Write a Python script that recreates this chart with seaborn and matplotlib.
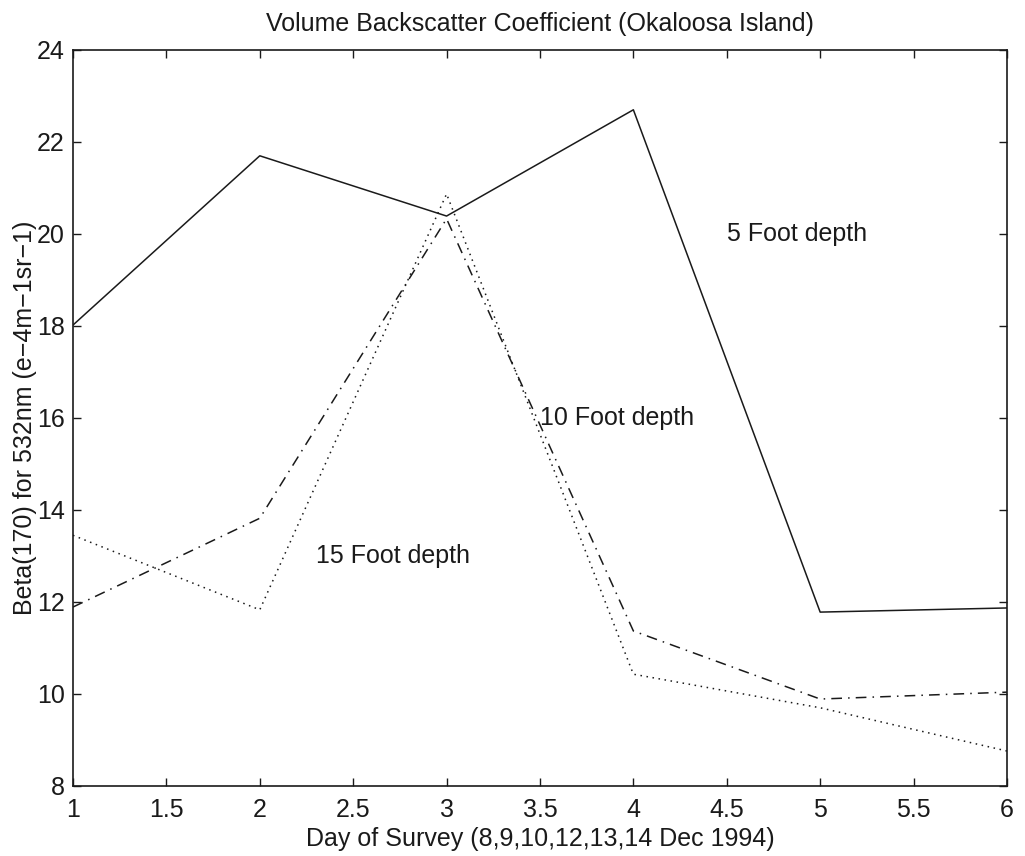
import numpy as np
import pandas as pd
import matplotlib
matplotlib.use('Agg')
import matplotlib.pyplot as plt
import seaborn as sns

# survey days and backscatter values
days = [1, 2, 3, 4, 5, 6]
beta_5ft = [18.02, 21.70, 20.39, 22.70, 11.78, 11.87]
beta_10ft = [11.89, 13.82, 20.33, 11.37, 9.89, 10.04]
beta_15ft = [13.45, 11.83, 20.87, 10.43, 9.70, 8.76]

depth_names = ['5 Foot depth', '10 Foot depth', '15 Foot depth']
label_x = [4.5, 3.5, 2.3]
label_y = [20.0, 16.0, 13.0]

x_ticks = [1, 1.5, 2, 2.5, 3, 3.5, 4, 4.5, 5, 5.5, 6]
x_ticklabels = ['1', '1.5', '2', '2.5', '3', '3.5', '4', '4.5', '5', '5.5', '6']
y_ticks = [8, 10, 12, 14, 16, 18, 20, 22, 24]

df = pd.DataFrame({
    'day': days * 3,
    'beta': beta_5ft + beta_10ft + beta_15ft,
    'depth': [d for d in depth_names for _ in days],
})

sns.set_style('ticks')
plt.rcParams['font.family'] = ['Liberation Sans', 'DejaVu Sans']
plt.rcParams['xtick.direction'] = 'in'
plt.rcParams['ytick.direction'] = 'in'

fs = 18

fig = plt.figure(figsize=(10.25, 8.56), dpi=100)
ax = fig.add_axes([0.0712, 0.0818, 0.9112, 0.8598])

sns.lineplot(data=df, x='day', y='beta', style='depth', ax=ax,
             dashes={'5 Foot depth': '', '10 Foot depth': (7, 4, 1, 4), '15 Foot depth': (1, 3)},
             color='#1a1a1a', linewidth=1.1, legend=False, estimator=None, sort=False)

for name, tx, ty in zip(depth_names, label_x, label_y):
    ax.text(tx, ty, name, fontsize=fs, ha='left', va='center', color='#1a1a1a')

ax.set_xlim(1, 6)
ax.set_ylim(8, 24)
ax.set_xticks(x_ticks)
ax.set_xticklabels(x_ticklabels)
ax.set_yticks(y_ticks)
ax.tick_params(axis='both', which='both', direction='in', length=6, width=1,
               top=True, right=True, labelsize=fs, colors='#1a1a1a', pad=6)
ax.tick_params(axis='x', pad=9)
for sp in ax.spines.values():
    sp.set_visible(True)
    sp.set_linewidth(1.2)
    sp.set_color('#1a1a1a')

ax.set_title('Volume Backscatter Coefficient (Okaloosa Island)', fontsize=fs, pad=14, color='#1a1a1a')
ax.set_xlabel('Day of Survey (8,9,10,12,13,14 Dec 1994)', fontsize=fs, labelpad=3, color='#1a1a1a')
ax.set_ylabel('Beta(170) for 532nm (e\u22124m\u22121sr\u22121)', fontsize=fs, labelpad=0, color='#1a1a1a')

fig.savefig('out.png', dpi=100)
